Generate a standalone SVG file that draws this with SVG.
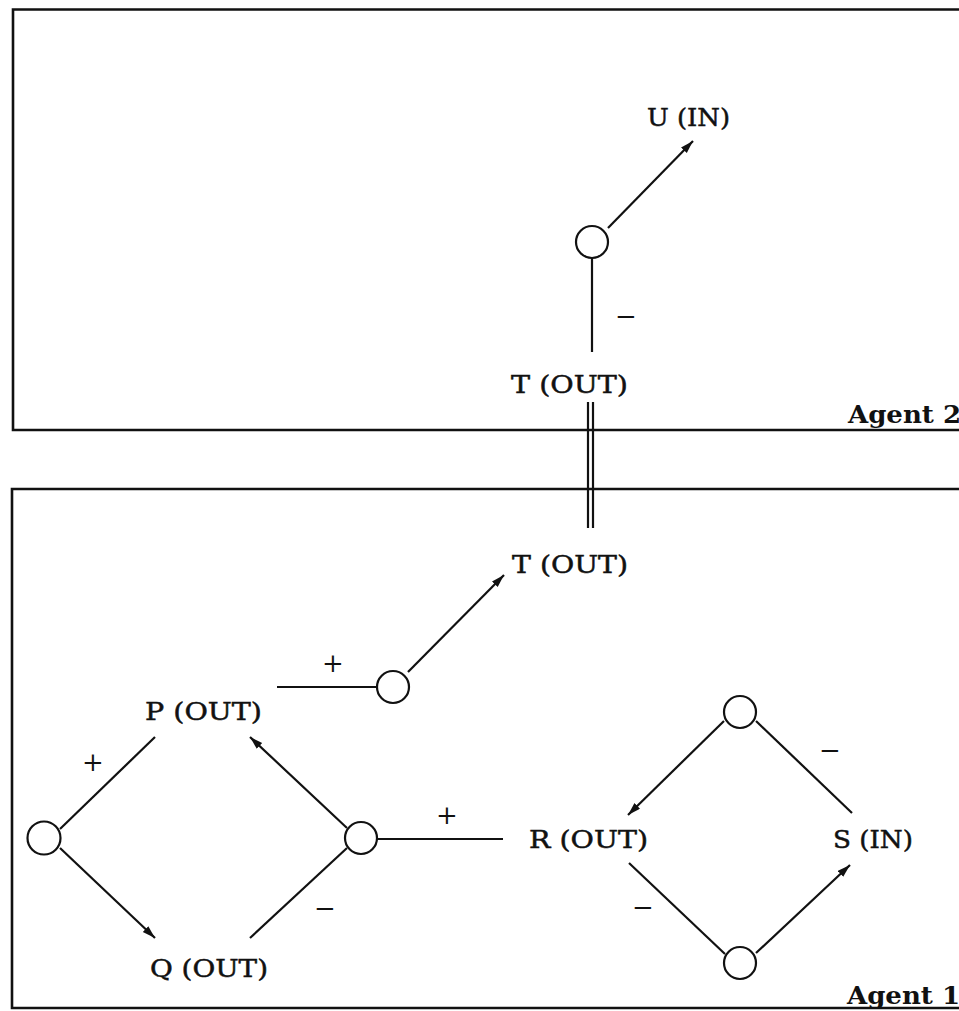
<svg xmlns="http://www.w3.org/2000/svg" width="959" height="1011" viewBox="0 0 959 1011">
<style>
.box{fill:none;stroke:#111;stroke-width:2.6}
.ln{fill:none;stroke:#111;stroke-width:2.2}
.nd{fill:#fff;stroke:#111;stroke-width:2.2}
.lb{font-family:"DejaVu Serif","Liberation Serif",serif;font-size:25px;fill:#111;stroke:#111;stroke-width:0.5}
.sg{font-family:"DejaVu Serif","Liberation Serif",serif;font-size:26px;fill:#111;text-anchor:middle}
.ag{font-family:"DejaVu Serif","Liberation Serif",serif;font-size:24px;font-weight:bold;fill:#111}
</style>
<defs>
<marker id="ah" markerUnits="userSpaceOnUse" markerWidth="14" markerHeight="10" refX="13" refY="4" orient="auto">
<path d="M0,0 L13,4 L0,8 Z" fill="#111"/>
</marker>
</defs>
<g id="agent2-box">
<path class="box" d="M970,9.5 L13,9.5 L13,430 L970,430"/>
<text class="ag" x="848" y="423" textLength="113" lengthAdjust="spacingAndGlyphs">Agent 2</text>
</g>
<g id="agent1-box">
<path class="box" d="M970,489 L12,489 L12,1008 L970,1008"/>
<text class="ag" x="847" y="1004" textLength="113" lengthAdjust="spacingAndGlyphs">Agent 1</text>
</g>
<g id="connectors">
<line class="ln" x1="608" y1="228" x2="693" y2="141" marker-end="url(#ah)"/>
<line class="ln" x1="592" y1="258" x2="592" y2="352"/>
<line class="ln" x1="588" y1="402" x2="588" y2="528"/>
<line class="ln" x1="593" y1="402" x2="593" y2="528"/>
<line class="ln" x1="277" y1="687" x2="377" y2="687"/>
<line class="ln" x1="408" y1="672" x2="504" y2="575" marker-end="url(#ah)"/>
<line class="ln" x1="155" y1="737" x2="60" y2="829"/>
<line class="ln" x1="60" y1="848" x2="155" y2="938" marker-end="url(#ah)"/>
<line class="ln" x1="250" y1="938" x2="347" y2="848"/>
<line class="ln" x1="347" y1="828" x2="250" y2="737" marker-end="url(#ah)"/>
<line class="ln" x1="377" y1="839" x2="503" y2="839"/>
<line class="ln" x1="724" y1="721" x2="628" y2="815" marker-end="url(#ah)"/>
<line class="ln" x1="852" y1="813" x2="756" y2="721"/>
<line class="ln" x1="629" y1="863" x2="725" y2="954"/>
<line class="ln" x1="756" y1="953" x2="850" y2="865" marker-end="url(#ah)"/>
<text class="sg" x="626" y="325">−</text>
<text class="sg" x="333" y="672">+</text>
<text class="sg" x="93" y="771">+</text>
<text class="sg" x="447" y="824">+</text>
<text class="sg" x="325" y="917">−</text>
<text class="sg" x="830" y="759">−</text>
<text class="sg" x="643" y="916">−</text>
</g>
<g id="node-U"><text class="lb" x="647" y="126" textLength="83" lengthAdjust="spacingAndGlyphs">U (IN)</text></g>
<g id="node-T2"><text class="lb" x="511" y="393" textLength="117" lengthAdjust="spacingAndGlyphs">T (OUT)</text></g>
<g id="node-T1"><text class="lb" x="512" y="573" textLength="116" lengthAdjust="spacingAndGlyphs">T (OUT)</text></g>
<g id="node-P"><text class="lb" x="145" y="720" textLength="117" lengthAdjust="spacingAndGlyphs">P (OUT)</text></g>
<g id="node-Q"><text class="lb" x="150" y="977" textLength="118" lengthAdjust="spacingAndGlyphs">Q (OUT)</text></g>
<g id="node-R"><text class="lb" x="529" y="848" textLength="119" lengthAdjust="spacingAndGlyphs">R (OUT)</text></g>
<g id="node-S"><text class="lb" x="833" y="848" textLength="80" lengthAdjust="spacingAndGlyphs">S (IN)</text></g>
<g id="gate-top"><circle class="nd" cx="592" cy="242" r="16"/></g>
<g id="gate-upper"><circle class="nd" cx="393" cy="687" r="16"/></g>
<g id="gate-left"><circle class="nd" cx="44" cy="838" r="16.5"/></g>
<g id="gate-mid"><circle class="nd" cx="361" cy="838" r="16"/></g>
<g id="gate-topright"><circle class="nd" cx="740" cy="712" r="16"/></g>
<g id="gate-bottomright"><circle class="nd" cx="740" cy="963" r="16"/></g>
</svg>
